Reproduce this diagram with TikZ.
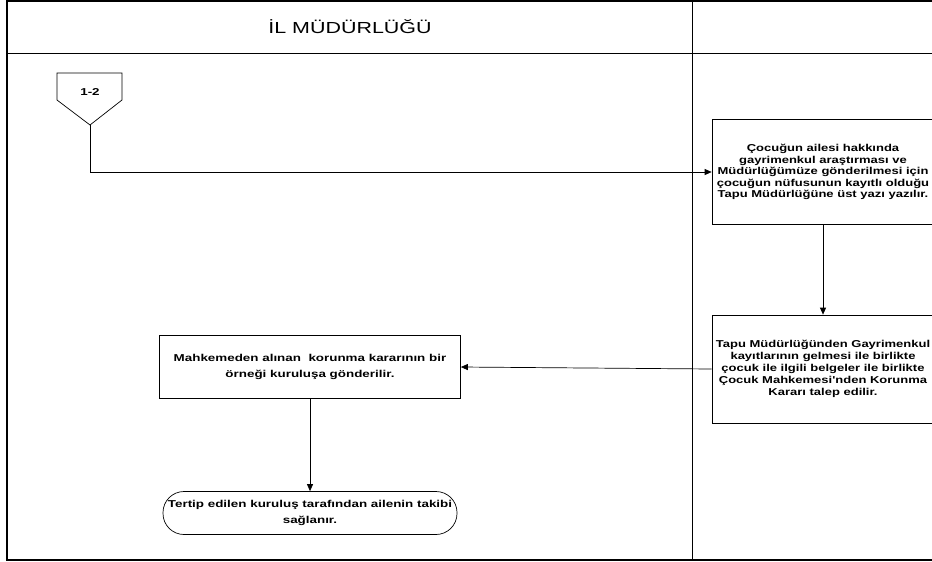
\documentclass[tikz,border=0pt]{standalone}
\usepackage{fontspec}
\setmainfont{Liberation Sans}
\newfontfamily\wideface[FakeStretch=1.34]{Liberation Sans}
\newfontfamily\boxface[FakeStretch=1.30]{Liberation Sans}
\usetikzlibrary{positioning,arrows.meta}

\begin{document}
\begin{tikzpicture}[
  x=1pt, y=-1pt,
  lane/.style={draw, line width=0.8pt},
  box/.style={draw, line width=0.7pt, minimum width=222pt, minimum height=105pt, align=center, font=\wideface\fontsize{10}{12}\selectfont\bfseries, inner sep=2pt},
  endbox/.style={draw, line width=0.7pt, rounded corners=21pt, minimum width=294pt, minimum height=43pt, align=center, font=\wideface\fontsize{10}{16}\selectfont\bfseries, inner sep=2pt},
  flow/.style={draw, line width=0.7pt, -{Triangle[length=7pt,width=6pt]}},
  lanetitle/.style={font=\wideface\fontsize{16}{18}\selectfont}
]
\clip (0,0) rectangle (932,562);

% Swimlane frame
\draw[lane, line width=1.5pt] (7,1) rectangle (945,560);
\draw[lane] (7,53) -- (945,53);
\draw[lane] (692,1) -- (692,560);
\node[lanetitle] (t1) at (350,27) {İL MÜDÜRLÜĞÜ};

% Off-page connector
\draw[line width=0.7pt] (57,73) -- (122,73) -- (122,100) -- (90,125) -- (57,100) -- cycle;
\node[font=\wideface\fontsize{10}{12}\selectfont\bfseries] (conn) at (90,92) {1-2};
\coordinate (conn-tip) at (90,125);

% Steps
\node[box, font=\boxface\fontsize{10}{11.5}\selectfont\bfseries] (b1) at (823,172) {Çocuğun ailesi hakkında\\gayrimenkul araştırması ve\\Müdürlüğümüze gönderilmesi için\\çocuğun nüfusunun kayıtlı olduğu\\Tapu Müdürlüğüne üst yazı yazılır.};
\node[box, minimum height=108pt, font=\boxface\fontsize{10}{12}\selectfont\bfseries] (b2) at (823,369) {Tapu Müdürlüğünden Gayrimenkul\\kayıtlarının gelmesi ile birlikte\\çocuk ile ilgili belgeler ile birlikte\\Çocuk Mahkemesi'nden Korunma\\Kararı talep edilir.};
\node[box, minimum width=301pt, minimum height=63pt, font=\wideface\fontsize{10}{16.5}\selectfont\bfseries] (b3) at (310,367) {Mahkemeden alınan\ \ korunma kararının bir\\örneği kuruluşa gönderilir.};
\node[endbox] (b4) at (310,513) {Tertip edilen kuruluş tarafından ailenin takibi\\sağlanır.};

% Connectors
\draw[flow] (conn-tip) |- (b1.west);
\draw[flow] (b1.south) -- (b2.north);
\draw[flow] (b2.west) -- (b3.east);
\draw[flow] (b3.south) -- (b4.north);

\end{tikzpicture}
\end{document}
